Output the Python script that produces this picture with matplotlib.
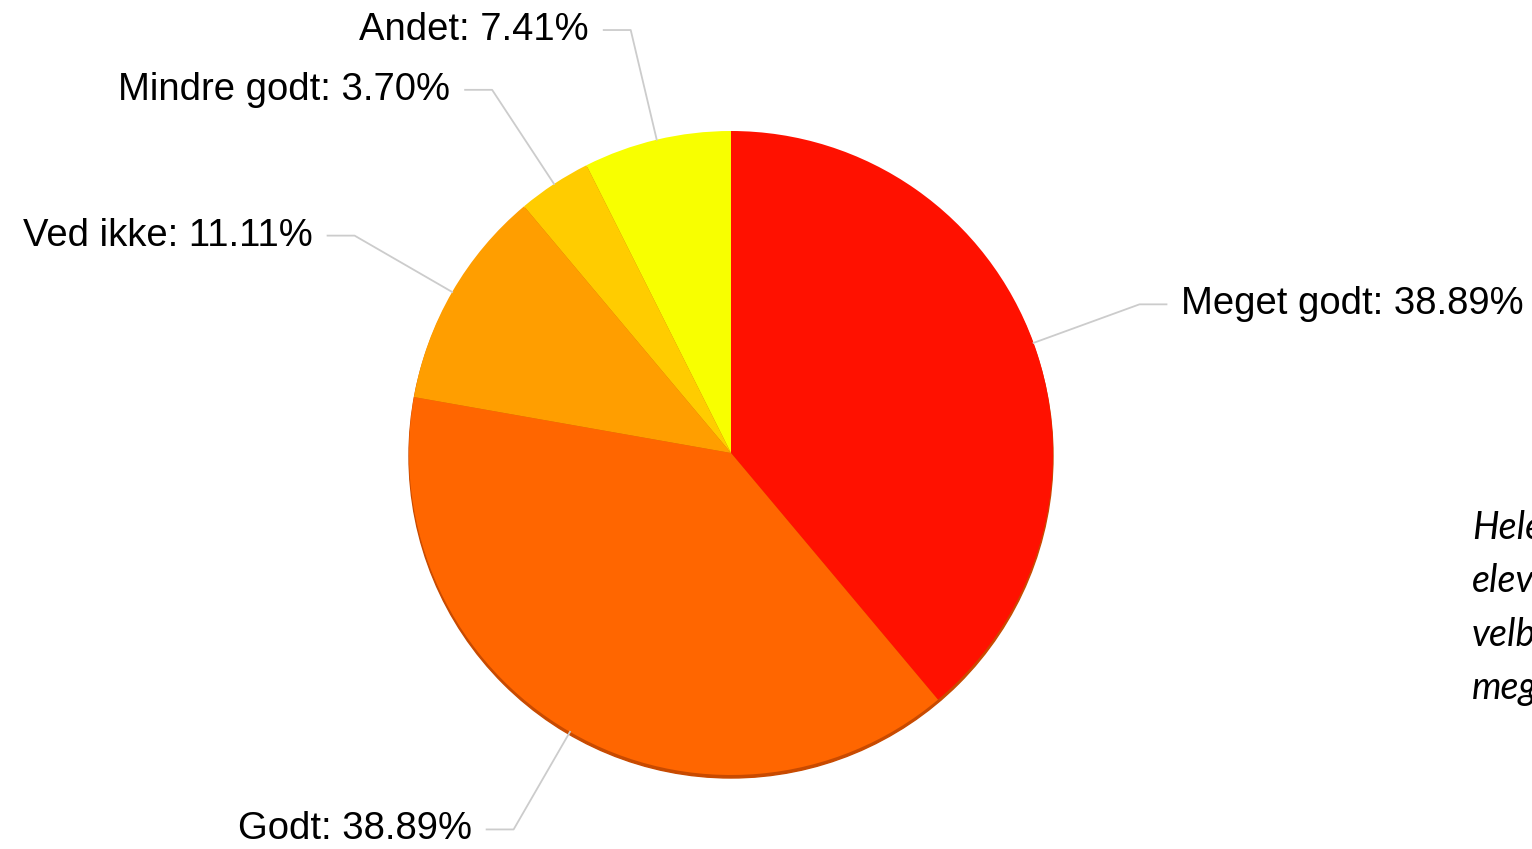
import numpy as np
import matplotlib.pyplot as plt

# data
labels = ['Meget godt', 'Godt', 'Ved ikke', 'Mindre godt', 'Andet']
values = [38.89, 38.89, 11.11, 3.70, 7.41]
colors = ['#FF1100', '#FF6600', '#FF9E00', '#FFCC00', '#F8FF00']
side_text = ['Hele', 'eleverne', 'velbefindende', 'meget']

W, H = 1532, 849
fig = plt.figure(figsize=(W / 100, H / 100), dpi=100)
ax = fig.add_axes([0, 0, 1, 1])

cx, cy, R = 731, H - 453, 322

# soft shadow under the pie
ax.add_patch(plt.Circle((cx, cy - 3), R, color='#C84A00', zorder=1))
ax.pie(values, colors=colors, startangle=90, counterclock=False,
       center=(cx, cy), radius=R, frame=True,
       wedgeprops=dict(linewidth=0, zorder=2))
ax.set_xlim(0, W)
ax.set_ylim(0, H)
ax.set_aspect('equal')
ax.axis('off')

# leader lines + labels
cum = np.cumsum([0] + values[:-1])
total = sum(values)
for lab, v, c0 in zip(labels, values, cum):
    mid = 90 - (c0 + v / 2) / total * 360
    a = np.deg2rad(mid)
    x0, y0 = cx + R * np.cos(a), cy + R * np.sin(a)
    x1, y1 = cx + 1.35 * R * np.cos(a), cy + 1.35 * R * np.sin(a)
    side = 1 if np.cos(a) > 0 else -1
    x2 = x1 + side * 27
    ax.plot([x0, x1, x2], [y0, y1, y1], color='#CCCCCC', lw=1.3, zorder=3)
    ax.text(x2 + side * 15, y1, f'{lab}: {v:.2f}%',
            ha='left' if side > 0 else 'right', va='center',
            fontsize=27.5, family='Liberation Sans', color='black')

# side note, cut off at the right edge as in the original
for i, t in enumerate(side_text):
    ax.text(1472, H - 528 - i * 53.5, t, ha='left', va='center',
            fontsize=27, family='Lato', style='italic', color='black')

fig.savefig('out.png', dpi=100)
